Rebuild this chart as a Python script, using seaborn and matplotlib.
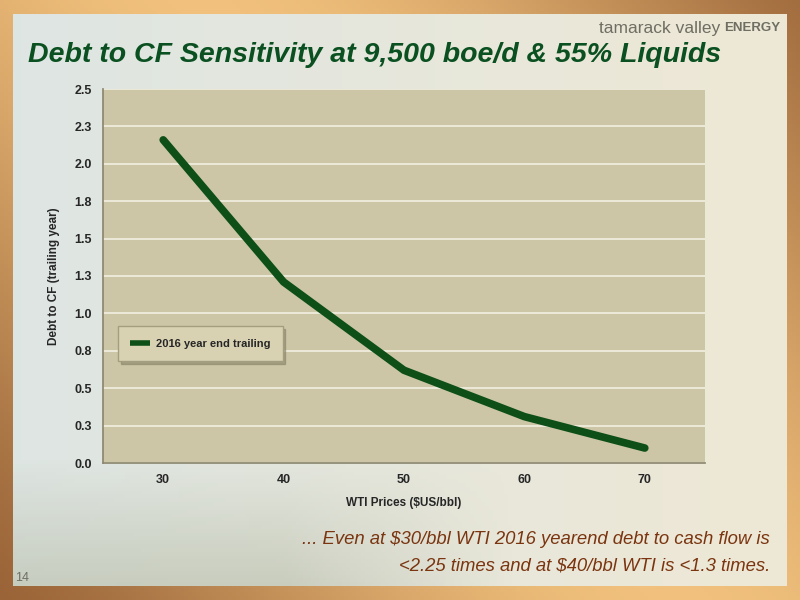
import matplotlib
matplotlib.use("Agg")
import matplotlib.pyplot as plt
import seaborn as sns
import numpy as np
import pandas as pd

# chart values
wti_prices = [30, 40, 50, 60, 70]
debt_to_cf = [2.16, 1.21, 0.62, 0.31, 0.10]
series_name = "2016 year end trailing"
y_ticks = [0.0, 0.25, 0.5, 0.75, 1.0, 1.25, 1.5, 1.75, 2.0, 2.25, 2.5]

df = pd.DataFrame({"WTI": wti_prices, "Debt": debt_to_cf, "series": series_name})

sns.set_theme(style="white")
fonts = ["Liberation Sans", "DejaVu Sans"]
plt.rcParams["font.family"] = fonts

fig = plt.figure(figsize=(8, 6), dpi=100)

# slide background: brown/gold frame and a pale inner panel
bg = fig.add_axes([0, 0, 1, 1], zorder=-10)
bg.set_axis_off()
xx, yy = np.meshgrid(np.linspace(0, 1, 200), np.linspace(0, 1, 150))
frame = 0.5 + 0.5 * np.cos((xx - 0.55 + (yy - 0.5) * 0.6) * 3.0)
frame_cmap = matplotlib.colors.LinearSegmentedColormap.from_list("frame", ["#9a6438", "#f0c07c"])
bg.imshow(frame, cmap=frame_cmap, extent=[0, 1, 0, 1], aspect="auto", origin="lower")

# inner panel: cool grey top-left, warm cream right, muted forest tone bottom-left
c_cool = np.array([0.87, 0.90, 0.89])
c_warm = np.array([0.93, 0.91, 0.84])
c_forest = np.array([0.72, 0.74, 0.66])
w = np.clip(xx * 1.1, 0, 1)[..., None]
img = c_cool * (1 - w) + c_warm * w
f = (np.clip((0.22 - yy) / 0.22, 0, 1) * np.clip((0.65 - xx) / 0.3, 0, 1))[..., None]
img = img * (1 - 0.6 * f) + c_forest * 0.6 * f
bg.imshow(img, extent=[13 / 800, 787 / 800, 1 - 586 / 600, 1 - 14 / 600],
          aspect="auto", origin="lower")
bg.set_xlim(0, 1)
bg.set_ylim(0, 1)

ax = fig.add_axes([103 / 800, 1 - 463 / 600, (705 - 103) / 800, (463 - 89) / 600])
ax.set_facecolor("#ccc6a6")

sns.lineplot(data=df, x="WTI", y="Debt", hue="series", palette=["#0d4f17"],
             linewidth=5.5, ax=ax, solid_capstyle="round")

ax.set_xlim(25, 75)
ax.set_ylim(0, 2.5)
ax.set_xticks(wti_prices)
ax.set_xticklabels([str(v) for v in wti_prices])
ax.set_yticks(y_ticks)
ax.set_yticklabels([f"{np.floor(v * 10 + 0.5) / 10:.1f}" for v in y_ticks])
ax.yaxis.grid(True, color="#f2efe2", linewidth=1.2)
ax.set_axisbelow(True)
for side in ["top", "right"]:
    ax.spines[side].set_visible(False)
ax.spines["left"].set_color("#8c8870")
ax.spines["bottom"].set_color("#8c8870")
ax.tick_params(axis="both", length=0, labelsize=9, pad=8)
for lab in ax.get_xticklabels() + ax.get_yticklabels():
    lab.set_fontweight("bold")

ax.set_xlabel("WTI Prices ($US/bbl)", fontsize=8.5, fontweight="bold", labelpad=8)
ax.set_ylabel("Debt to CF (trailing year)", fontsize=8.5, fontweight="bold", labelpad=10)

leg = ax.legend(loc="upper left", bbox_to_anchor=(0.025, 0.365), frameon=True, fontsize=8,
                handlelength=1.8, handletextpad=0.5, borderpad=1.1, fancybox=False,
                borderaxespad=0, shadow={"color": "#8a8468", "alpha": 0.6})
leg.get_frame().set_facecolor("#d9d2b2")
leg.get_frame().set_edgecolor("#a49e80")
for line in leg.get_lines():
    line.set_linewidth(4)
    line.set_solid_capstyle("butt")
for t in leg.get_texts():
    t.set_fontweight("bold")

fig.text(28 / 800, 1 - 55 / 600, "Debt to CF Sensitivity at 9,500 boe/d & 55% Liquids",
         fontsize=20.5, fontweight="bold", fontstyle="italic", color="#0a5020", va="center")

# logo: "tamarack valley" sits just left of "ENERGY"
energy = fig.text(780 / 800, 1 - 28 / 600, "ENERGY", fontsize=9.5, color="#6e6e62",
                  fontweight="bold", ha="right", va="center")
fig.canvas.draw()
bb = energy.get_window_extent().transformed(fig.transFigure.inverted())
fig.text(bb.x0 - 4 / 800, 1 - 28 / 600, "tamarack valley", fontsize=12.5, color="#6e6e62",
         ha="right", va="center")

fig.text(770 / 800, 1 - 540 / 600, "... Even at $30/bbl WTI 2016 yearend debt to cash flow is",
         fontsize=13.3, fontstyle="italic", color="#7a3510", ha="right", va="center")
fig.text(770 / 800, 1 - 566 / 600, "<2.25 times and at $40/bbl WTI is <1.3 times.",
         fontsize=13.3, fontstyle="italic", color="#7a3510", ha="right", va="center")
fig.text(15 / 800, 1 - 578 / 600, "14", fontsize=9, color="#6e6e62", va="center")

fig.savefig("out.png", dpi=100)
